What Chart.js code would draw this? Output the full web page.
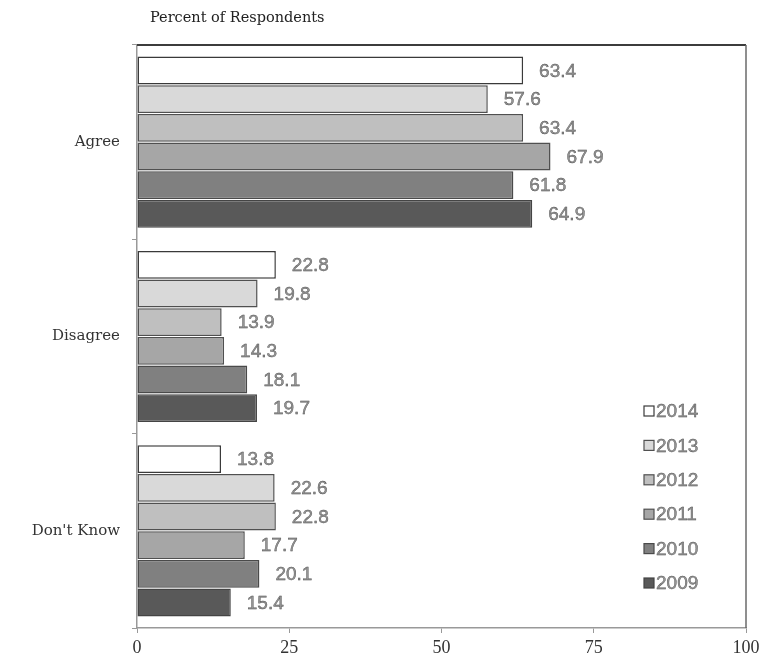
<!DOCTYPE html>
<html>
<head>
<meta charset="utf-8">
<script src="https://cdn.jsdelivr.net/npm/chart.js@4.4.1/dist/chart.umd.min.js"></script>
<style>
  html, body { margin: 0; padding: 0; background: #fff; }
  #wrap { width: 765px; height: 662px; position: relative; }
</style>
</head>
<body>
<div id="wrap"><canvas id="c" width="765" height="662"></canvas></div>
<script>
// Survey responses by year
const categories = ["Agree", "Disagree", "Don't Know"];
const years = ["2014", "2013", "2012", "2011", "2010", "2009"];
const v2014 = [63.4, 22.8, 13.8];
const v2013 = [57.6, 19.8, 22.6];
const v2012 = [63.4, 13.9, 22.8];
const v2011 = [67.9, 14.3, 17.7];
const v2010 = [61.8, 18.1, 20.1];
const v2009 = [64.9, 19.7, 15.4];
const xTicks = [0, 25, 50, 75, 100];

const seriesValues = [v2014, v2013, v2012, v2011, v2010, v2009];
const fills = ["#ffffff", "#d9d9d9", "#bfbfbf", "#a6a6a6", "#808080", "#595959"];
const strokes = ["#3a3a3a", "#505050", "#505050", "#505050", "#4a4a4a", "#444444"];

const datasets = years.map((y, i) => ({
  label: y,
  data: seriesValues[i],
  backgroundColor: fills[i],
  borderColor: strokes[i],
  borderWidth: 1.5,
  borderSkipped: false,
  categoryPercentage: 0.885,
  barPercentage: 0.97
}));

const labelFont = '19px "Liberation Sans", Arial, sans-serif';

function grayText(ctx, text, x, y) {
  ctx.fillStyle = '#959595';
  ctx.fillText(text, x, y);
  ctx.strokeStyle = '#4a4a4a';
  ctx.lineWidth = 0.4;
  ctx.strokeText(text, x, y);
}

// value labels to the right of each bar
const valueLabels = {
  id: 'valueLabels',
  afterDatasetsDraw(chart) {
    const ctx = chart.ctx;
    ctx.save();
    ctx.font = labelFont;
    ctx.textBaseline = 'middle';
    ctx.textAlign = 'left';
    chart.data.datasets.forEach((ds, di) => {
      chart.getDatasetMeta(di).data.forEach((bar, i) => {
        grayText(ctx, ds.data[i].toFixed(1), bar.x + 16, bar.y + 1);
      });
    });
    ctx.restore();
  }
};

// frame, title and legend
const decorations = {
  id: 'decorations',
  afterDraw(chart) {
    const ctx = chart.ctx;
    const a = chart.chartArea;
    ctx.save();
    // top edge
    ctx.strokeStyle = '#3c3c3c';
    ctx.lineWidth = 2;
    ctx.beginPath();
    ctx.moveTo(a.left, a.top);
    ctx.lineTo(a.right, a.top);
    ctx.stroke();
    // right edge
    ctx.strokeStyle = '#6a6a6a';
    ctx.lineWidth = 1.5;
    ctx.beginPath();
    ctx.moveTo(a.right, a.top);
    ctx.lineTo(a.right, a.bottom);
    ctx.stroke();

    // axis title
    ctx.fillStyle = '#222';
    ctx.font = '14.5px "DejaVu Serif", "Liberation Serif", serif';
    ctx.textBaseline = 'middle';
    ctx.textAlign = 'left';
    ctx.fillText('Percent of Respondents', 150, 18);

    // legend
    const lx = 644, ly0 = 411, step = 34.4;
    ctx.font = labelFont;
    chart.data.datasets.forEach((ds, i) => {
      const y = ly0 + i * step;
      ctx.fillStyle = ds.backgroundColor;
      ctx.strokeStyle = ds.borderColor;
      ctx.lineWidth = 1.2;
      ctx.fillRect(lx, y - 5, 10, 10);
      ctx.strokeRect(lx, y - 5, 10, 10);
      grayText(ctx, ds.label, lx + 12, y + 1);
    });
    ctx.restore();
  }
};

new Chart(document.getElementById('c'), {
  type: 'bar',
  data: { labels: categories, datasets },
  options: {
    indexAxis: 'y',
    responsive: false,
    animation: false,
    layout: { padding: { top: 45, right: 19, left: 0, bottom: 0 } },
    plugins: {
      legend: { display: false },
      tooltip: { enabled: false }
    },
    scales: {
      x: {
        min: 0,
        max: 100,
        afterBuildTicks(scale) { scale.ticks = xTicks.map(v => ({ value: v })); },
        afterFit(scale) { scale.height = 34; },
        border: { display: true, color: '#999', width: 1.5 },
        grid: { drawOnChartArea: false, tickLength: 5, color: '#999' },
        ticks: {
          color: '#333',
          padding: 4,
          font: { family: '"Liberation Serif", "DejaVu Serif", serif', size: 18 }
        }
      },
      y: {
        afterFit(scale) { scale.width = 137; },
        border: { display: true, color: '#999', width: 1.5 },
        grid: { drawOnChartArea: false, offset: true, tickLength: 5, color: '#999' },
        ticks: {
          color: '#333',
          padding: 12,
          font: { family: '"DejaVu Serif", "Liberation Serif", serif', size: 15 }
        }
      }
    }
  },
  plugins: [valueLabels, decorations]
});
</script>
</body>
</html>
